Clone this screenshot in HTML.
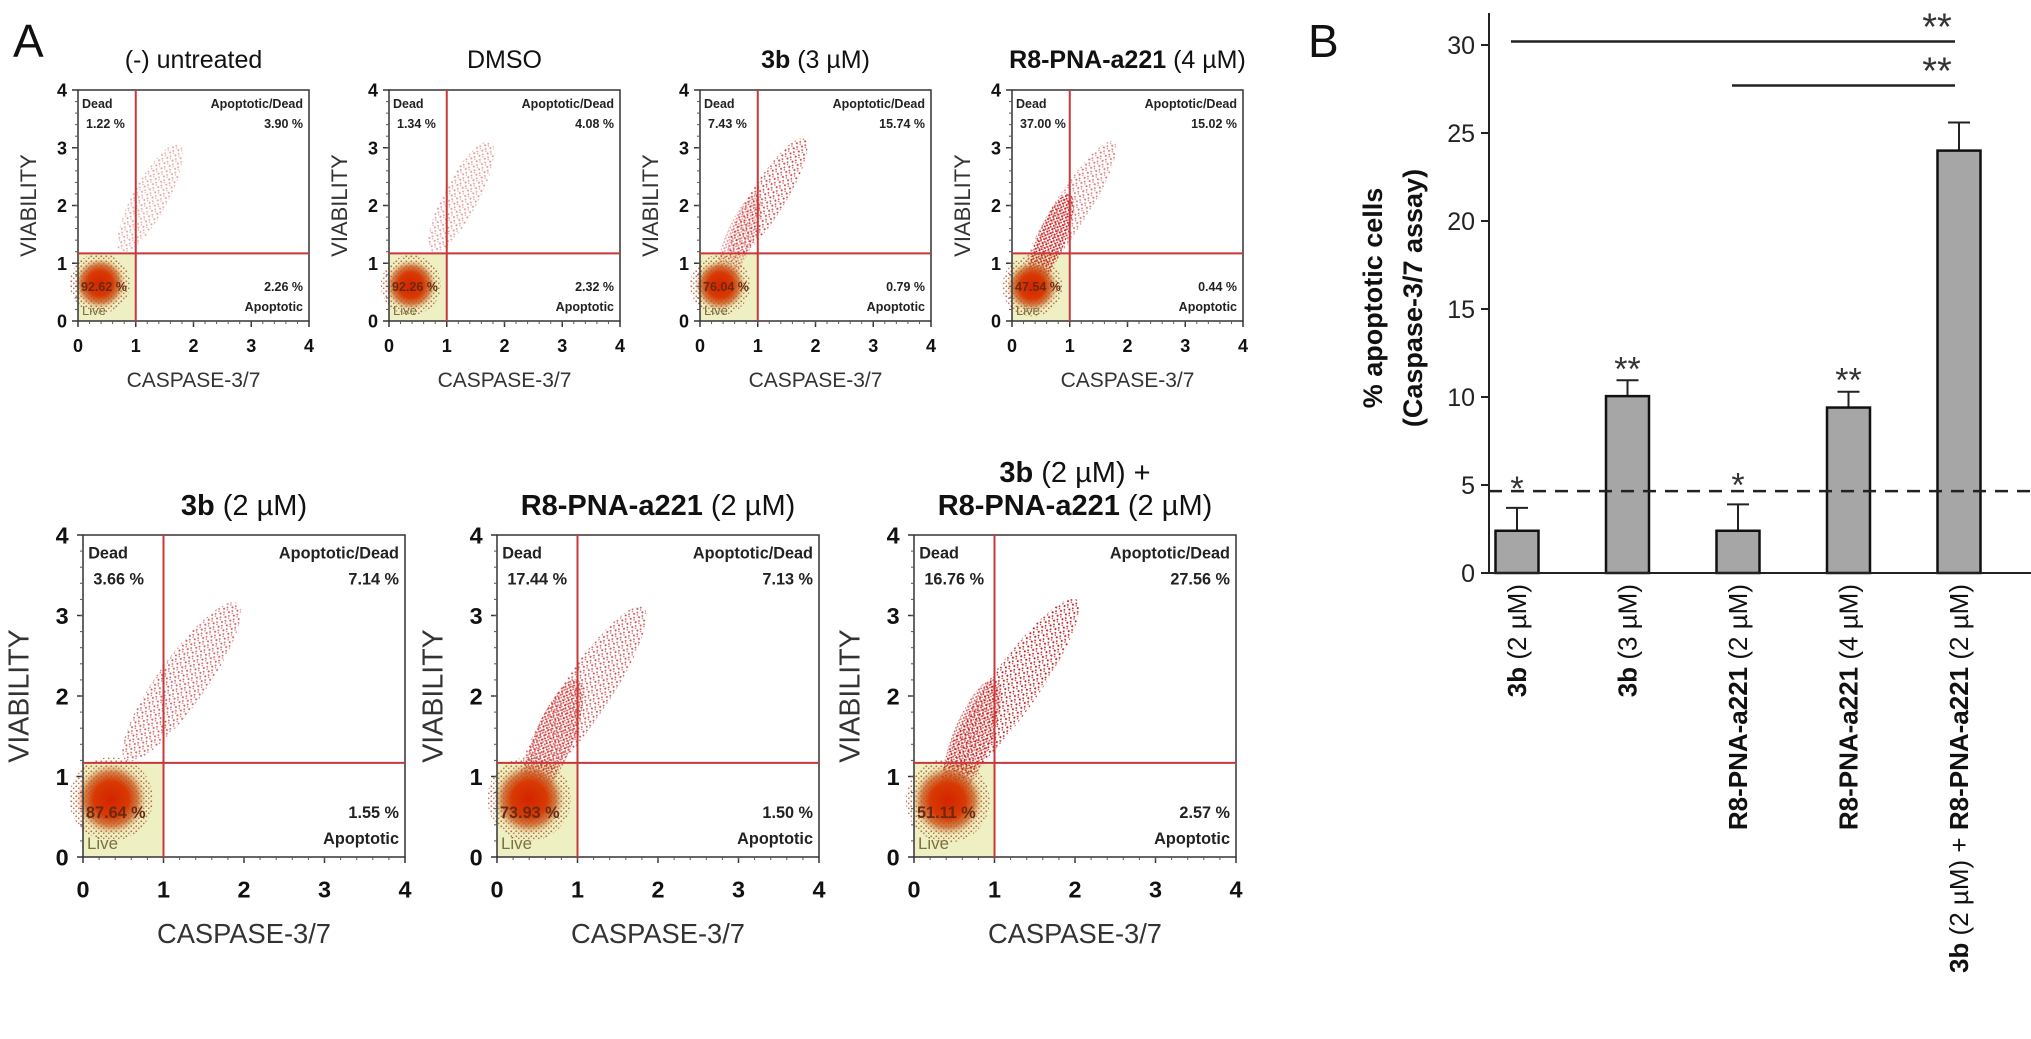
<!DOCTYPE html>
<html><head><meta charset="utf-8">
<style>
html,body{margin:0;padding:0;background:#fff;}
svg{display:block;font-family:"Liberation Sans",Arial,sans-serif;}
</style></head>
<body>
<svg id="fig" width="2031" height="1039" viewBox="0 0 2031 1039" xmlns="http://www.w3.org/2000/svg">
<defs>
  <radialGradient id="liveGrad">
    <stop offset="0" stop-color="#d42400"/>
    <stop offset="0.5" stop-color="#d83a04"/>
    <stop offset="0.75" stop-color="#c85a20" stop-opacity="0.75"/>
    <stop offset="1" stop-color="#d89a60" stop-opacity="0"/>
  </radialGradient>
  <pattern id="speck" width="6" height="6" patternUnits="userSpaceOnUse">
    <rect x="1" y="1" width="1.8" height="1.8" fill="#c01818"/>
    <rect x="4" y="3.2" width="1.6" height="1.6" fill="#b02828"/>
    <rect x="2.2" y="4.6" width="1.3" height="1.3" fill="#d03a3a"/>
  </pattern>
  <pattern id="speckDense" width="4" height="4" patternUnits="userSpaceOnUse">
    <rect x="0.5" y="0.5" width="1.8" height="1.8" fill="#d01010"/>
    <rect x="2.4" y="2.2" width="1.5" height="1.5" fill="#c01818"/>
  </pattern>
  <pattern id="speckHalo" width="5" height="5" patternUnits="userSpaceOnUse">
    <rect x="0.5" y="0.5" width="1.6" height="1.6" fill="#b83810"/>
    <rect x="3" y="2.6" width="1.5" height="1.5" fill="#9a5a20"/>
  </pattern>
</defs>
<text x="13" y="57" font-size="46" fill="#111">A</text>
<text x="1308" y="57" font-size="46" fill="#111">B</text>
<g id="scatters"></g>
<g id="bars"></g>
</svg>
<script>
// ---------- Flow cytometry panels (A) ----------
const panelTitlesBold = ["", "", "3b", "R8-PNA-a221", "3b", "R8-PNA-a221", "3b"];
const panelTitlesRest = ["(-) untreated", "DMSO", " (3 µM)", " (4 µM)", " (2 µM)", " (2 µM)", " (2 µM) +"];
const deadPct   = ["1.22 %", "1.34 %", "7.43 %", "37.00 %", "3.66 %", "17.44 %", "16.76 %"];
const apDeadPct = ["3.90 %", "4.08 %", "15.74 %", "15.02 %", "7.14 %", "7.13 %", "27.56 %"];
const apopPct   = ["2.26 %", "2.32 %", "0.79 %", "0.44 %", "1.55 %", "1.50 %", "2.57 %"];
const livePct   = ["92.62 %", "92.26 %", "76.04 %", "47.54 %", "87.64 %", "73.93 %", "51.11 %"];
const liveCx    = [0.38, 0.38, 0.35, 0.35, 0.35, 0.4, 0.42];
const liveCy    = [0.65, 0.62, 0.62, 0.6, 0.72, 0.72, 0.7];
const streakX0  = [0.8, 0.8, 0.6, 0.3, 0.6, 0.4, 0.45];
const streakY0  = [1.3, 1.3, 1.2, 0.8, 1.3, 1.0, 1.0];
const streakX1  = [1.7, 1.7, 1.75, 1.7, 1.85, 1.75, 1.95];
const streakY1  = [2.95, 3.0, 3.05, 3.0, 3.05, 3.0, 3.1];
const streakDensity = [0.4, 0.45, 0.8, 0.6, 0.7, 0.75, 1.0];
const coreStreakDensity = [0, 0, 0.45, 0.95, 0, 0.7, 0.7];
const gateX = 1.0, gateY = 1.17;
const axisTicks = [0, 1, 2, 3, 4];

// layout (not data)
const layout = [
  {x:78, y:90, s:231, fs:1},
  {x:389, y:90, s:231, fs:1},
  {x:700, y:90, s:231, fs:1},
  {x:1012, y:90, s:231, fs:1},
  {x:83, y:535, s:322, fs:1.3},
  {x:497, y:535, s:322, fs:1.3},
  {x:914, y:535, s:322, fs:1.3}
];
const NS = "http://www.w3.org/2000/svg";
function mk(tag, attrs, parent, txt) {
  const e = document.createElementNS(NS, tag);
  for (const k in attrs) e.setAttribute(k, attrs[k]);
  if (txt !== undefined) e.textContent = txt;
  if (parent) parent.appendChild(e);
  return e;
}
const sc = document.getElementById("scatters");
layout.forEach((L, i) => {
  const g = mk("g", {}, sc);
  
  
  const X = v => L.x + v / 4 * L.s;
  const Y = v => L.y + L.s - v / 4 * L.s;
  const f = L.fs;
  const lg = mk("rect", {x: X(0), y: Y(gateY), width: X(gateX) - X(0), height: Y(0) - Y(gateY), fill: "#eef0c4"}, g);
  
  
  const sx0 = X(streakX0[i]), sy0 = Y(streakY0[i]), sx1 = X(streakX1[i]), sy1 = Y(streakY1[i]);
  const len = Math.hypot(sx1 - sx0, sy1 - sy0);
  const ang = Math.atan2(sy1 - sy0, sx1 - sx0) * 180 / Math.PI;
  const st = mk("ellipse", {cx: (sx0 + sx1) / 2, cy: (sy0 + sy1) / 2, rx: len / 2 + L.s * 0.03, ry: L.s * 0.075,
    fill: "url(#speck)", opacity: streakDensity[i],
    transform: `rotate(${ang} ${(sx0 + sx1) / 2} ${(sy0 + sy1) / 2})`}, g);
  
  
  if (coreStreakDensity[i] > 0) {
    const cx0 = X(liveCx[i]), cy0 = Y(liveCy[i]), cx1 = X(1.0), cy1 = Y(2.2);
    const l2 = Math.hypot(cx1 - cx0, cy1 - cy0);
    const a2 = Math.atan2(cy1 - cy0, cx1 - cx0) * 180 / Math.PI;
    const cs = mk("ellipse", {cx: (cx0 + cx1) / 2, cy: (cy0 + cy1) / 2, rx: l2 / 2, ry: L.s * 0.06,
      fill: "url(#speckDense)", opacity: coreStreakDensity[i],
      transform: `rotate(${a2} ${(cx0 + cx1) / 2} ${(cy0 + cy1) / 2})`}, g);
    
    
  }
  const h = mk("ellipse", {cx: X(liveCx[i]), cy: Y(liveCy[i]), rx: L.s * 0.13, ry: L.s * 0.13, fill: "url(#speckHalo)", opacity: 0.75}, g);
  
  
  const c = mk("ellipse", {cx: X(liveCx[i]), cy: Y(liveCy[i]), rx: L.s * 0.11, ry: L.s * 0.11, fill: "url(#liveGrad)"}, g);
  
  
  const fr = mk("rect", {x: L.x, y: L.y, width: L.s, height: L.s, fill: "none", stroke: "#333", "stroke-width": 1.5}, g);
  
  
  const gv = mk("line", {x1: X(gateX), x2: X(gateX), y1: Y(0), y2: Y(4), stroke: "#c83838", "stroke-width": 2}, g);
  
  
  const gh = mk("line", {x1: X(0), x2: X(4), y1: Y(gateY), y2: Y(gateY), stroke: "#c83838", "stroke-width": 2}, g);
  
  
  axisTicks.forEach(t => {
    mk("line", {x1: X(t), x2: X(t), y1: Y(0), y2: Y(0) + 6, stroke: "#333", "stroke-width": 1.5}, g);
    mk("line", {x1: X(0), x2: X(0) - 6, y1: Y(t), y2: Y(t), stroke: "#333", "stroke-width": 1.5}, g);
    const xl = mk("text", {x: X(t), y: Y(0) + 31 * f, "font-size": 18 * f, "font-weight": "bold", "text-anchor": "middle", fill: "#111"}, g, String(t));
    
    
    const yl = mk("text", {x: X(0) - 11 * f, y: Y(t) + 6.5 * f, "font-size": 18 * f, "font-weight": "bold", "text-anchor": "end", fill: "#111"}, g, String(t));
    
    
  });
  for (let m = 0.2; m < 4; m += 0.2) {
    mk("line", {x1: X(m), x2: X(m), y1: Y(0), y2: Y(0) + 3, stroke: "#555", "stroke-width": 1}, g);
    mk("line", {x1: X(0), x2: X(0) - 3, y1: Y(m), y2: Y(m), stroke: "#555", "stroke-width": 1}, g);
  }
  const xt = mk("text", {x: L.x + L.s / 2, y: Y(0) + 66 * f, "font-size": 21 * f, "text-anchor": "middle", fill: "#333"}, g, "CASPASE-3/7");
  
  
  const yx = L.x - 42 * f, yy = L.y + L.s / 2;
  const yt = mk("text", {x: yx, y: yy, "font-size": 22 * f, "text-anchor": "middle", fill: "#333", transform: `rotate(-90 ${yx} ${yy})`}, g, "VIABILITY");
  
  
  const qs = 12.5 * f;
  const q = (txt, x, y, anchor, name, col) => {
    const t = mk("text", {x: x, y: y, "font-size": qs, "font-weight": "bold", "text-anchor": anchor, fill: col || "#222"}, g, txt);
    
    
  };
  q("Dead", L.x + 4 * f, L.y + 18 * f, "start", "dead-label");
  q(deadPct[i], L.x + 8 * f, L.y + 38 * f, "start", "dead-percent");
  q("Apoptotic/Dead", L.x + L.s - 6, L.y + 18 * f, "end", "apoptotic-dead-label");
  q(apDeadPct[i], L.x + L.s - 6, L.y + 38 * f, "end", "apoptotic-dead-percent");
  q(apopPct[i], L.x + L.s - 6, Y(0) - 30 * f, "end", "apoptotic-percent");
  q("Apoptotic", L.x + L.s - 6, Y(0) - 10 * f, "end", "apoptotic-label");
  q(livePct[i], L.x + 3, Y(0) - 30 * f, "start", "live-percent", "#6a2a10");
  const lv = mk("text", {x: L.x + 4, y: Y(0) - 6 * f, "font-size": 13 * f, fill: "#7a7040"}, g, "Live");
  
  
  const ty = i < 4 ? 68 : (i === 6 ? 482 : 515);
  const tt = mk("text", {x: L.x + L.s / 2, y: ty, "font-size": i < 4 ? 25 : 29, "text-anchor": "middle", fill: "#111"}, g);
  
  
  if (panelTitlesBold[i]) mk("tspan", {"font-weight": "bold"}, tt, panelTitlesBold[i]);
  mk("tspan", {}, tt, panelTitlesRest[i]);
  if (i === 6) {
    const t2 = mk("text", {x: L.x + L.s / 2, y: 515, "font-size": 29, "text-anchor": "middle", fill: "#111"}, g);
    
    
    mk("tspan", {"font-weight": "bold"}, t2, "R8-PNA-a221");
    mk("tspan", {}, t2, " (2 µM)");
  }
});

// ---------- Bar chart (B) ----------
const barLabelsBold = ["3b", "3b", "R8-PNA-a221", "R8-PNA-a221", "3b"];
const barLabelsRest = [" (2 µM)", " (3 µM)", " (2 µM)", " (4 µM)", " (2 µM) + "];
const barValues = [2.4, 10.05, 2.4, 9.4, 24.0];
const barErrors = [1.3, 0.9, 1.5, 0.9, 1.6];
const barStars = ["*", "**", "*", "**", ""];
const yTicks = [0, 5, 10, 15, 20, 25, 30];
const thresholdValue = 4.65;
const sigFrom = [0, 2];
const sigTo = [4, 4];
const sigLevel = [30.2, 27.7];

const bg = document.getElementById("bars");
const axX = 1489, base = 573, unit = 17.6;
const yB = v => base - v * unit;
const xB = i => 1517 + i * 110.5;
const bw = 43;
const ya = mk("line", {x1: axX, x2: axX, y1: 13, y2: base, stroke: "#222", "stroke-width": 2}, bg);


yTicks.forEach(t => {
  mk("line", {x1: axX - 8, x2: axX, y1: yB(t), y2: yB(t), stroke: "#222", "stroke-width": 2}, bg);
  const tl = mk("text", {x: axX - 14, y: yB(t) + 9, "font-size": 25, "text-anchor": "end", fill: "#222"}, bg, String(t));
  
  
});
const yt1 = mk("text", {x: 1382, y: 298, "font-size": 27, "font-weight": "bold", "text-anchor": "middle", fill: "#111", transform: "rotate(-90 1382 298)"}, bg, "% apoptotic cells");


const yt2 = mk("text", {x: 1422, y: 298, "font-size": 27, "font-weight": "bold", "text-anchor": "middle", fill: "#111", transform: "rotate(-90 1422 298)"}, bg, "(Caspase-3/7 assay)");


barValues.forEach((v, i) => {
  const cx = xB(i);
  const e = mk("line", {x1: cx, x2: cx, y1: yB(v), y2: yB(v + barErrors[i]), stroke: "#222", "stroke-width": 2}, bg);
  
  
  mk("line", {x1: cx - 11, x2: cx + 11, y1: yB(v + barErrors[i]), y2: yB(v + barErrors[i]), stroke: "#222", "stroke-width": 2}, bg);
  const r = mk("rect", {x: cx - bw / 2, y: yB(v), width: bw, height: yB(0) - yB(v), fill: "#a6a6a6", stroke: "#111", "stroke-width": 2.5}, bg);
  
  
  if (barStars[i]) {
    const s = mk("text", {x: cx, y: yB(v + barErrors[i]) - 10 + (barStars[i] === "*" ? -8 : 0) + 10, "font-size": 34, "text-anchor": "middle", fill: "#333"}, bg, barStars[i]);
    
    
  }
  const lx = cx + 9, ly = 584;
  const lab = mk("text", {x: lx, y: ly, "font-size": 26, "text-anchor": "end", fill: "#111", transform: `rotate(-90 ${lx} ${ly})`}, bg);
  
  
  mk("tspan", {"font-weight": "bold"}, lab, barLabelsBold[i]);
  mk("tspan", {}, lab, barLabelsRest[i]);
  if (i === 4) { mk("tspan", {"font-weight": "bold"}, lab, "R8-PNA-a221"); mk("tspan", {}, lab, " (2 µM)"); }
});
const bl = mk("line", {x1: axX, x2: 2031, y1: base, y2: base, stroke: "#222", "stroke-width": 2}, bg);


const th = mk("line", {x1: axX, x2: 2031, y1: yB(thresholdValue), y2: yB(thresholdValue), stroke: "#222", "stroke-width": 2.5, "stroke-dasharray": "13 9"}, bg);


sigFrom.forEach((a, k) => {
  const y = yB(sigLevel[k]);
  const l = mk("line", {x1: xB(a) - 6, x2: xB(sigTo[k]) - 4, y1: y, y2: y, stroke: "#222", "stroke-width": 2.5}, bg);
  
  
  const s = mk("text", {x: xB(sigTo[k]) - 22, y: y - 2, "font-size": 38, "text-anchor": "middle", fill: "#333"}, bg, "**");
  
  
});
</script>
</body></html>
